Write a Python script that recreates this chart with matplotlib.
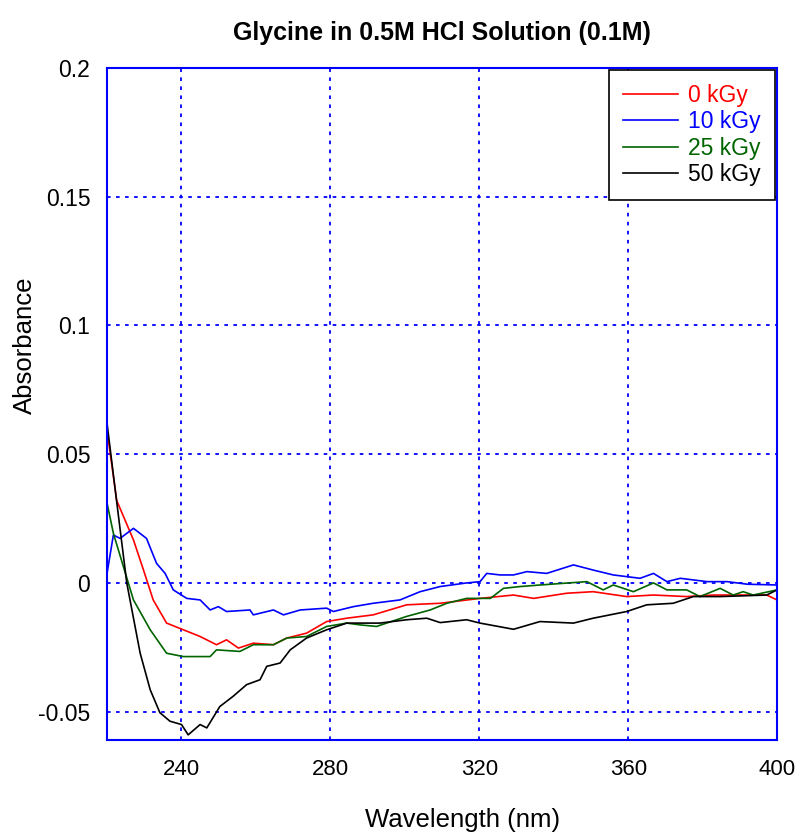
import numpy as np
import matplotlib.pyplot as plt

plt.rcParams['font.family'] = ['Liberation Sans', 'DejaVu Sans']

# wavelength (nm) / absorbance
wl_0 = [220, 222.6, 227.1, 229.8, 232.4, 236, 240.5, 245, 249.4, 252.1, 255.3, 259.3, 264.7,
        268.3, 273.6, 279, 284.4, 291.5, 300.5, 309.5, 320.2, 329.2, 334.6, 343.5, 350.6,
        359.6, 366.8, 375.7, 382.9, 397.2, 400]
abs_0 = [0.0593, 0.032, 0.0167, 0.005, -0.0066, -0.0156, -0.0182, -0.0208, -0.024, -0.0221,
         -0.0253, -0.0234, -0.024, -0.0214, -0.0195, -0.015, -0.0137, -0.0124, -0.0085, -0.0079,
         -0.006, -0.0047, -0.006, -0.004, -0.0034, -0.0053, -0.0047, -0.0053, -0.0047, -0.0047,
         -0.0066]

wl_10 = [220, 221.7, 223.5, 227.1, 230.6, 233.3, 235.6, 237.8, 241.4, 245, 247.7, 249.9, 252.1,
         258.4, 259.3, 264.7, 267.4, 271.9, 279, 280.8, 286.2, 291.5, 298.7, 304.1, 309.5,
         316.6, 320.2, 322, 325.6, 329.2, 332.8, 338.1, 345.3, 350.6, 356, 363.2, 366.8, 370.4,
         374, 381.2, 386.6, 392, 400]
abs_10 = [0.0037, 0.0186, 0.0173, 0.0212, 0.0173, 0.0076, 0.0037, -0.0027, -0.006, -0.0066,
          -0.0105, -0.0092, -0.0111, -0.0105, -0.0124, -0.0105, -0.0124, -0.0105, -0.0098,
          -0.0111, -0.0092, -0.0079, -0.0066, -0.0034, -0.0014, 0.0, 0.0005, 0.0037, 0.0031,
          0.0031, 0.0044, 0.0037, 0.007, 0.005, 0.0031, 0.0018, 0.0037, 0.0005, 0.0018, 0.0005,
          0.0005, -0.0005, -0.0008]

wl_25 = [220, 221.7, 224.4, 227.1, 231.6, 236, 240.5, 247.7, 249.4, 255.7, 259.3, 264.7, 268.3,
         273.6, 279, 284.4, 288, 292.4, 300.5, 306.8, 311.3, 316.6, 323, 326.5, 331, 336.3,
         348.9, 353.3, 356, 361.4, 366.8, 370.4, 375.7, 379.3, 384.7, 388.2, 390.9, 393.6, 400]
abs_25 = [0.031, 0.0193, 0.0063, -0.0066, -0.0182, -0.0273, -0.0286, -0.0286, -0.026, -0.0266,
          -0.024, -0.024, -0.0214, -0.0208, -0.0169, -0.0156, -0.0163, -0.0169, -0.013, -0.0105,
          -0.0079, -0.006, -0.006, -0.0021, -0.0014, -0.0008, 0.0005, -0.0027, -0.0008, -0.0034,
          0.0, -0.0027, -0.0027, -0.0053, -0.0021, -0.0047, -0.0034, -0.0047, -0.0027]

wl_50 = [220, 222.1, 225.3, 228.9, 231.6, 234.2, 236.9, 240, 241.8, 245, 246.8, 250.3, 253.9,
         257.5, 261.1, 262.9, 266.5, 269.2, 273.6, 279, 284.4, 293.3, 300.5, 305.9, 309.5,
         316.6, 320.2, 329.2, 336.3, 345.3, 350.6, 359.6, 365, 372.1, 377.5, 384.7, 397.2, 400]
abs_50 = [0.062, 0.0373, 0.0, -0.0273, -0.0415, -0.0504, -0.0537, -0.055, -0.059, -0.055,
          -0.0563, -0.048, -0.044, -0.0395, -0.0376, -0.0324, -0.0311, -0.026, -0.0214, -0.0182,
          -0.0156, -0.0156, -0.0143, -0.0137, -0.0154, -0.0143, -0.0156, -0.018, -0.015, -0.0156,
          -0.0137, -0.0111, -0.0085, -0.0079, -0.0053, -0.0053, -0.0047, -0.0027]

labels = ['0 kGy', '10 kGy', '25 kGy', '50 kGy']
colors = ['#ff0000', '#0000ff', '#006400', '#000000']

fig = plt.figure(figsize=(7.97, 8.39), dpi=100)
ax = fig.add_axes([0.1343, 0.118, 0.8407, 0.801])

for x, y, lab, c in zip([wl_0, wl_10, wl_25, wl_50], [abs_0, abs_10, abs_25, abs_50], labels, colors):
    ax.plot(x, y, color=c, lw=1.2, label=lab)

ax.set_xlim(220, 400)
ax.set_ylim(-0.061, 0.2)
ax.set_xticks([240, 280, 320, 360, 400])
ax.set_yticks([-0.05, 0, 0.05, 0.1, 0.15, 0.2])
ax.set_yticklabels(['-0.05', '0', '0.05', '0.1', '0.15', '0.2'])
ax.tick_params(axis='x', labelsize=16, length=0, pad=14)
ax.tick_params(axis='y', labelsize=16.5, length=0, pad=12)
ax.grid(True, color='#0000ff', linestyle=(0, (2, 3)), lw=1.3)
for s in ax.spines.values():
    s.set_color('#0000ff')
    s.set_linewidth(1.5)

ax.set_title('Glycine in 0.5M HCl Solution (0.1M)', fontsize=18, fontweight='bold', pad=20)
ax.set_xlabel('Wavelength (nm)', fontsize=18.5)
ax.set_ylabel('Absorbance', fontsize=18.5)
ax.xaxis.set_label_coords(0.53, -0.101)
ax.yaxis.set_label_coords(-0.1045, 0.588)

leg = ax.legend(loc='upper right', fontsize=16.5, fancybox=False, framealpha=1,
                edgecolor='black', handlelength=2.4, borderaxespad=0.1, labelspacing=0.15,
                handletextpad=0.45, borderpad=0.6)
leg.get_frame().set_linewidth(1.2)
for t, c in zip(leg.get_texts(), colors):
    t.set_color(c)

fig.savefig('out.png', dpi=100)
